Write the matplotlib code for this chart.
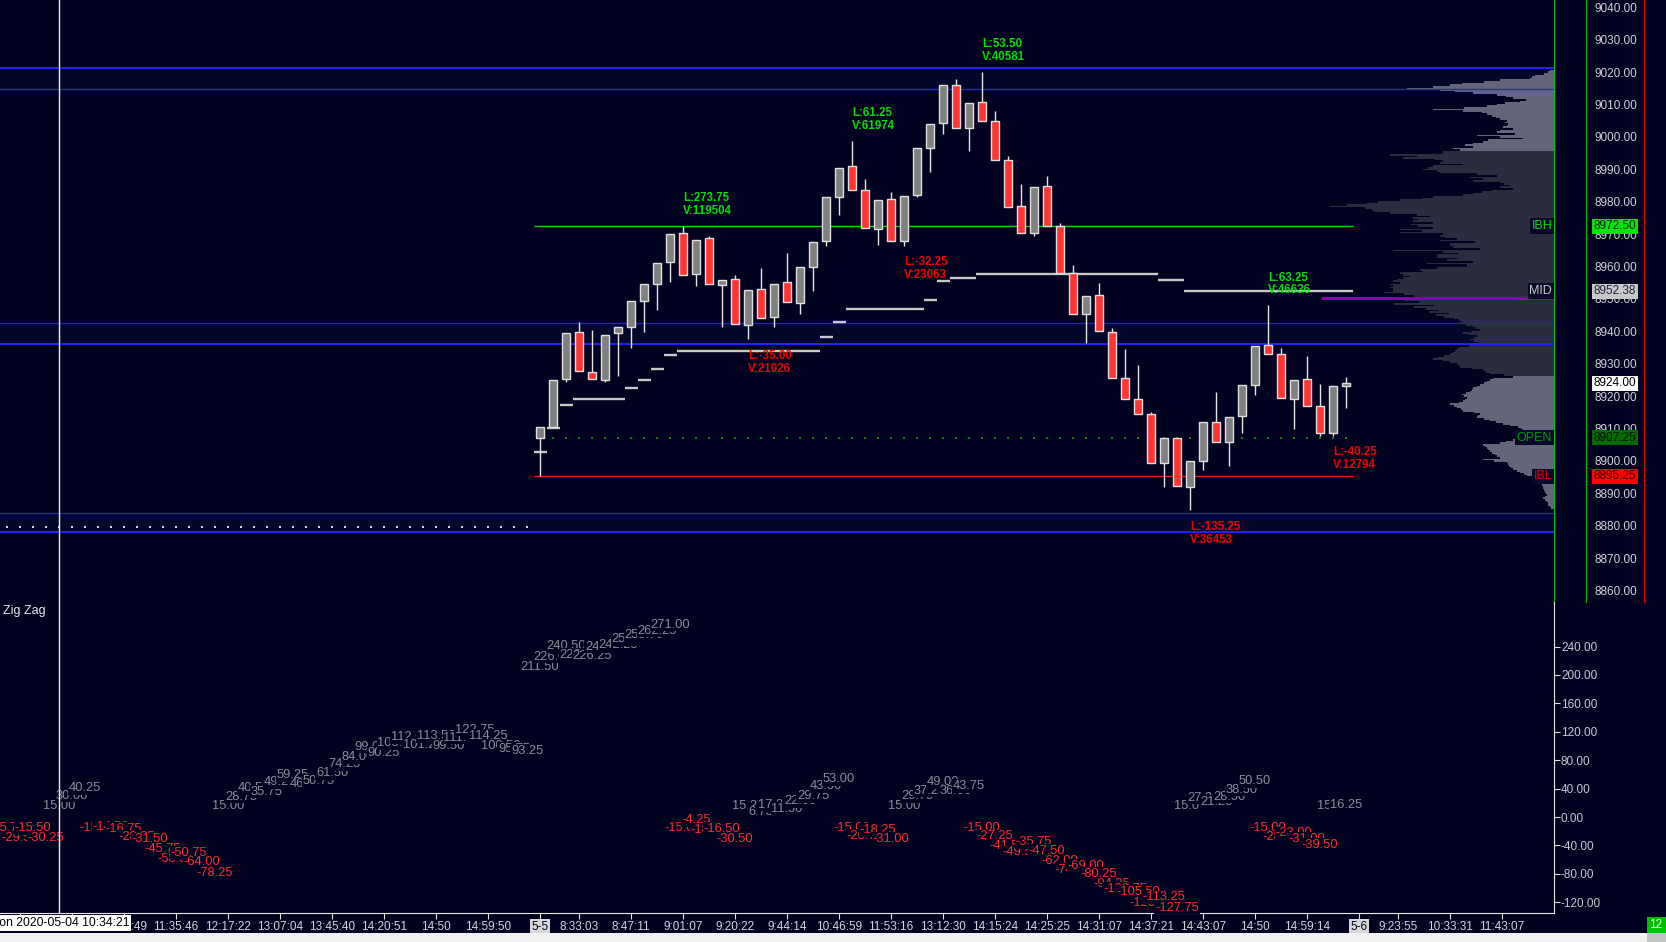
import numpy as np
import matplotlib
matplotlib.use('Agg')
import matplotlib.pyplot as plt
from matplotlib.lines import Line2D
from matplotlib.patches import Rectangle

plt.rcParams['font.family'] = ['Liberation Sans', 'DejaVu Sans']

BG = '#010120'
W, H = 1666, 942

# 15 point range bars of the 5-5 session (bar index 0..62)
opens = [8907.25, 8910.5, 8925.25, 8939.75, 8927.5, 8925.0, 8939.5, 8941.5, 8949.5, 8954.75,
         8961.5, 8970.25, 8957.75, 8968.75, 8954.25, 8956.25, 8942.0, 8953.0, 8944.5, 8955.25,
         8948.75, 8960.0, 8967.75, 8981.5, 8991.0, 8983.75, 8971.75, 8980.75, 8967.75, 8982.0,
         8996.75, 9004.25, 9016.0, 9002.75, 9010.75, 9005.0, 8992.75, 8978.75, 8970.25, 8984.75,
         8972.5, 8958.0, 8945.25, 8951.25, 8939.75, 8925.5, 8919.0, 8914.5, 8899.25, 8907.0,
         8892.0, 8900.0, 8912.0, 8905.75, 8913.75, 8923.5, 8935.75, 8933.0, 8919.25, 8925.25,
         8917.0, 8908.5, 8923.0]
highs = [8910.5, 8925.0, 8939.5, 8943.0, 8940.5, 8939.0, 8941.25, 8949.5, 8954.75, 8961.25,
         8970.0, 8972.5, 8968.25, 8969.5, 8956.0, 8957.5, 8952.75, 8959.5, 8954.75, 8964.25,
         8960.0, 8967.5, 8981.5, 8990.5, 8998.75, 8987.0, 8980.5, 8983.0, 8981.75, 8996.5,
         9004.0, 9016.0, 9018.0, 9010.5, 9020.0, 9008.0, 8994.0, 8985.5, 8984.5, 8988.0,
         8973.5, 8960.5, 8951.0, 8955.0, 8941.0, 8934.5, 8929.5, 8915.0, 8907.0, 8907.0,
         8900.0, 8912.0, 8921.25, 8913.5, 8923.5, 8935.5, 8948.0, 8935.0, 8925.0, 8932.5,
         8923.75, 8923.0, 8926.0]
lows = [8895.25, 8910.5, 8924.5, 8927.75, 8925.25, 8924.5, 8926.25, 8934.75, 8939.75, 8946.75,
        8955.25, 8957.5, 8954.0, 8954.5, 8941.5, 8942.25, 8937.5, 8944.25, 8941.5, 8949.0,
        8945.25, 8952.5, 8966.5, 8976.0, 8983.75, 8972.0, 8966.75, 8968.0, 8966.5, 8981.5,
        8989.25, 9001.0, 9002.75, 8995.75, 9005.0, 8993.0, 8978.5, 8970.5, 8969.5, 8972.5,
        8958.0, 8945.5, 8936.5, 8940.0, 8925.75, 8919.25, 8914.5, 8899.5, 8892.0, 8892.25,
        8884.75, 8897.25, 8906.0, 8898.5, 8908.75, 8920.5, 8933.0, 8919.5, 8910.0, 8917.0,
        8907.75, 8907.75, 8916.5]
closes = [8910.5, 8925.0, 8939.5, 8927.75, 8925.25, 8939.0, 8941.25, 8949.5, 8954.75, 8961.25,
          8970.0, 8957.5, 8968.25, 8954.5, 8956.0, 8942.25, 8952.75, 8944.25, 8954.75, 8949.0,
          8960.0, 8967.5, 8981.5, 8990.5, 8983.75, 8972.0, 8980.5, 8968.0, 8981.75, 8996.5,
          9004.0, 9016.0, 9002.75, 9010.5, 9005.0, 8993.0, 8978.5, 8970.5, 8984.5, 8972.5,
          8958.0, 8945.5, 8951.0, 8940.0, 8925.75, 8919.25, 8914.5, 8899.5, 8907.0, 8892.25,
          8900.0, 8912.0, 8906.0, 8913.5, 8923.5, 8935.5, 8933.0, 8919.5, 8925.0, 8917.0,
          8908.5, 8923.0, 8924.0]

# swing labels: bar, price, leg length, leg volume
swing_bar = [11, 16, 24, 28, 34, 50, 56, 61]
swing_price = [8972.5, 8937.5, 8998.75, 8966.5, 9020.0, 8884.75, 8948.0, 8907.75]
swing_len = ['273.75', '-35.00', '61.25', '-32.25', '53.50', '-135.25', '63.25', '-40.25']
swing_vol = ['119504', '21026', '61974', '23063', '40581', '36453', '46636', '12794']

ibh, ibl, open_px = 8972.5, 8895.25, 8907.25
prev_level = 8879.5
zone_top = [9021.3, 8942.6, 8884.0]
zone_bot = [9014.8, 8936.1, 8878.1]
poc_px = 8950.3
last_px = 8924.0

# volume profile, lengths (px) per 0.5 pt level from 9020.5 down to 8885.5
prof_len = [4, 6, 10, 19, 22, 24, 54, 70, 92, 104,
            121, 147, 114, 99, 81, 57, 48, 41, 28, 34,
            49, 57, 67, 90, 121, 91, 72, 67, 62, 58,
            54, 47, 49, 46, 47, 51, 41, 54, 57, 39,
            77, 54, 31, 66, 71, 81, 89, 81, 101, 94,
            111, 111, 164, 137, 151, 119, 111, 114, 91, 121,
            126, 131, 117, 114, 77, 57, 84, 71, 81, 54,
            50, 44, 54, 41, 62, 72, 81, 91, 121, 131,
            154, 176, 187, 207, 224, 189, 182, 179, 164, 137,
            124, 141, 136, 141, 121, 144, 136, 121, 154, 132,
            154, 111, 114, 109, 97, 114, 79, 104, 104, 101,
            74, 161, 111, 96, 117, 117, 97, 107, 81, 127,
            87, 87, 117, 134, 131, 154, 151, 144, 151, 157,
            161, 154, 164, 161, 164, 161, 161, 170, 150, 140,
            165, 170, 150, 135, 160, 120, 140, 128, 115, 125,
            105, 118, 110, 100, 95, 92, 94, 88, 81, 78,
            74, 82, 91, 85, 77, 80, 84, 80, 75, 71,
            85, 94, 97, 99, 101, 104, 110, 116, 121, 111,
            104, 97, 95, 94, 82, 71, 68, 64, 50, 41,
            61, 64, 67, 70, 74, 77, 81, 82, 84, 88,
            92, 90, 87, 89, 91, 95, 104, 100, 97, 93,
            91, 80, 74, 76, 77, 70, 64, 58, 51, 44,
            36, 33, 31, 32, 34, 34, 34, 37, 41, 48,
            54, 71, 69, 67, 66, 64, 62, 59, 57, 54,
            71, 60, 47, 46, 45, 43, 41, 37, 34, 30,
            27, 22, 17, 14, 11, 12, 12, 11, 11, 10,
            9, 8, 7, 9, 11, 9, 7, 6, 6, 4,
            3]
prof_levels = np.arange(9020.5, 8885.25, -0.5)

# zig zag values per bar: previous day bars -41..-1, then today 0..62
zz_prev = [-15.75, -29.50, -15.50, -30.25, 15.00, 30.00, 40.25, -15.25, -14.50, -16.75,
           -28.25, -31.50, -45.75, -58.50, -50.75, -64.00, -78.25, 15.00, 28.75, 40.50,
           35.75, 49.25, 59.25, 46.00, 50.75, 61.50, 74.25, 84.00, 99.00, 90.25,
           103.75, 112.00, 101.25, 113.50, 99.50, 111.75, 122.75, 114.25, 100.50, 95.75,
           93.25]
zz_today = [211.50, 226.00, 240.50, 228.75, 226.25, 240.00, 242.25, 250.50, 255.75, 262.25,
            271.00, -15.00, -4.25, -18.00, -16.50, -30.50, 15.25, 6.75, 17.25, 11.50,
            22.50, 29.75, 43.50, 53.00, -15.00, -26.75, -18.25, -31.00, 15.00, 29.75,
            37.25, 49.00, 36.00, 43.75, -15.00, -27.25, -41.50, -49.50, -35.75, -47.50,
            -62.00, -74.50, -69.00, -80.25, -94.25, -100.75, -105.50, -120.50, -113.25, -127.75,
            15.00, 27.25, 21.25, 28.50, 38.50, 50.50, -15.00, -28.50, -23.00, -31.00,
            -39.50, 15.00, 16.25]

tick_bars = [-40, -36, -32, -28, -24, -20, -16, -12, -8, -4, 0, 3, 7, 11, 15, 19, 23, 27,
             31, 35, 39, 43, 47, 51, 55, 59, 63, 66, 70, 74]
tick_text = ['', '', '10:58:49', '11:35:46', '12:17:22', '13:07:04', '13:45:40', '14:20:51',
             '14:50', '14:59:50', '5-5', '8:33:03', '8:47:11', '9:01:07', '9:20:22', '9:44:14',
             '10:46:59', '11:53:16', '13:12:30', '14:15:24', '14:25:25', '14:31:07', '14:37:21',
             '14:43:07', '14:50', '14:59:14', '5-6', '9:23:55', '10:33:31', '11:43:07']
cursor_bar = -37
cursor_text = 'Mon 2020-05-04 10:34:21'

bars = np.arange(len(opens))
prev_bars = np.arange(-len(zz_prev), 0)
o, h, l, c = map(np.array, (opens, highs, lows, closes))
XMIN, XMAX = -41.54, 78.0

fig = plt.figure(figsize=(W / 100, H / 100), dpi=100, facecolor=BG)
ax = fig.add_axes([0, 340 / H, 1554 / W, 602 / H], facecolor=BG)
ax2 = fig.add_axes([0, 29 / H, 1554 / W, 311 / H], facecolor=BG)

# ---------------- price panel ----------------
ax.set_xlim(XMIN, XMAX)
ax.set_ylim(8856.48, 9042.28)

for t, b in zip(zone_top, zone_bot):
    ax.axhspan(b, t, color='#03072C', lw=0, zorder=0.5)
ax.axhline(zone_top[0], color='#2323FF', lw=1.4, zorder=1.5)
ax.axhline(zone_bot[0], color='#2828C8', lw=1.0, zorder=1.5)
for i in (1, 2):
    ax.axhline(zone_top[i], color='#2424B8', lw=1.0, zorder=1.5)
    ax.axhline(zone_bot[i], color='#2323FF', lw=1.4, zorder=1.5)

# volume profile from the right edge
plen = np.array(prof_len) / 13.0
pcol = ['#64647A' if (p >= 8996 or p <= 8926) else '#2C2C40' for p in prof_levels]
ax.barh(prof_levels, plen, left=XMAX - plen, height=0.5, color=pcol, lw=0, zorder=1)
ax.hlines(poc_px, 60.1, XMAX, color='#8A00AA', lw=2.2, zorder=1.6)

# previous day dots, opening line, IB lines
ax.plot(prev_bars, [prev_level] * len(prev_bars), ls='none', marker='s', ms=1.6,
        color='#D8D8D8', mew=0, zorder=2)
ax.plot(bars, [open_px] * len(bars), ls='none', marker='s', ms=2.0, color='#009000',
        mew=0, zorder=2)
ax.hlines(ibh, -0.5, bars[-1] + 0.5, color='#00DD00', lw=1.0, zorder=2)
ax.hlines(ibl, -0.5, bars[-1] + 0.5, color='#FF1414', lw=1.0, zorder=2)

# running midpoint of the session range
mid = (np.maximum.accumulate(h) + np.minimum.accumulate(l)) / 2
ax.hlines(mid, bars - 0.5, bars + 0.5, color='#C8C8C8', lw=1.7, zorder=2.2)

# candles
up = c >= o
ax.vlines(bars, l, h, color='#E6E6E6', lw=1.0, zorder=3)
ax.bar(bars, np.abs(c - o), bottom=np.minimum(o, c), width=0.62,
       color=np.where(up, '#808080', '#FF3434'), edgecolor='#E0E0E0', lw=1.0, zorder=4)

# swing labels
for b, p, ln, vo in zip(swing_bar, swing_price, swing_len, swing_vol):
    neg = ln.startswith('-')
    ax.annotate(f'L:{ln}\nV:{vo}', (b, p), xytext=(0, -7.5 if neg else 6.5),
                textcoords='offset points', ha='left', va='top' if neg else 'bottom',
                color='#F00000' if neg else '#00E000', fontsize=8.3, fontweight='bold',
                linespacing=1.1, zorder=6)

# level tags inside the plot
ytr = ax.get_yaxis_transform()
for txt, p, col in [('IBH', ibh, '#00E000'), ('MID', mid[-1], '#C8C8C8'),
                    ('OPEN', open_px, '#009A00'), ('IBL', ibl, '#E00000')]:
    ax.text(0.9988, p, txt, transform=ytr, ha='right', va='center', fontsize=9, color=col,
            bbox=dict(boxstyle='square,pad=0.15', fc='#08082A', ec='none'), zorder=7)

# price scale
ax.yaxis.tick_right()
ax.set_yticks(np.arange(8860, 9041, 10))
ax.set_yticklabels([f'{v:.2f}' for v in np.arange(8860, 9041, 10)])
ax.tick_params(axis='y', length=0, pad=29.5, labelsize=8.5, labelcolor='#D2D2DA')
ax.set_xticks([])
for s in ('left', 'top', 'bottom'):
    ax.spines[s].set_visible(False)
ax.spines['right'].set_color('#00C800')

for txt, p, fc, tc in [(f'{ibh:.2f}', ibh, '#00E600', '#0A200A'),
                       (f'{mid[-1]:.2f}', mid[-1], '#C8C8C8', '#202040'),
                       (f'{last_px:.2f}', last_px, '#FFFFFF', '#000000'),
                       (f'{open_px:.2f}', open_px, '#006A00', '#001400'),
                       (f'{ibl:.2f}', ibl, '#FF0000', '#3A0000')]:
    ax.text(1.0393, p, txt, transform=ytr, ha='center', va='center', fontsize=8.5, color=tc,
            bbox=dict(boxstyle='square,pad=0.12', fc=fc, ec='none'), clip_on=False, zorder=8)

fig.add_artist(Line2D([1586 / W] * 2, [340 / H, 1], transform=fig.transFigure,
                      color='#00B000', lw=1))
fig.add_artist(Line2D([1644 / W] * 2, [340 / H, 1], transform=fig.transFigure,
                      color='#E00000', lw=1))

# ---------------- zig zag panel ----------------
ax2.set_xlim(XMIN, XMAX)
ax2.set_ylim(-135.2, 302.8)
zz_bars = np.concatenate([prev_bars, bars])
zz_vals = zz_prev + zz_today
for k, (b, v) in enumerate(zip(zz_bars, zz_vals)):
    ax2.text(b, v, f'{v:.2f}', ha='center', va='center', fontsize=9.3,
             color='#FF2C2C' if v < 0 else '#8C8C98', zorder=3 + k * 0.001,
             bbox=dict(boxstyle='square,pad=0.05', fc=BG, ec='none'))

ax2.yaxis.tick_right()
ax2.set_yticks(np.arange(-120, 241, 40))
ax2.set_yticklabels([f'{v:.2f}' for v in np.arange(-120, 241, 40)])
ax2.tick_params(axis='y', direction='out', length=4, color='#E0E0E0', pad=1,
                labelsize=8.5, labelcolor='#C8C8D0')
ax2.set_xticks(tick_bars)
xl = ax2.set_xticklabels(tick_text)
ax2.tick_params(axis='x', direction='out', length=4, color='#E0E0E0', pad=1.5,
                labelsize=8.5, labelcolor='#D4D4DC')
for t in xl:
    if t.get_text() in ('5-5', '5-6'):
        t.set_bbox(dict(boxstyle='square,pad=0.1', fc='#D8D8D8', ec='none'))
        t.set_color('#000020')
for s in ('left', 'top'):
    ax2.spines[s].set_visible(False)
for s in ('right', 'bottom'):
    ax2.spines[s].set_color('#E8E8E8')

# cursor
ax.axvline(cursor_bar, color='#F0F0F0', lw=1, zorder=5)
ax2.axvline(cursor_bar, color='#F0F0F0', lw=1, zorder=5)
fig.text((540 + 13 * cursor_bar) / W, 1 - 923 / H, cursor_text, ha='center', va='center',
         fontsize=8.8, color='#000000',
         bbox=dict(boxstyle='square,pad=0.15', fc='#FFFFFF', ec='none'), zorder=10)

fig.text(3 / W, 1 - 611 / H, 'Zig Zag', ha='left', va='center', fontsize=9, color='#E8E8E8')

# bottom strip
fig.add_artist(Rectangle((0, 0), 1, 9 / H, transform=fig.transFigure, fc='#F0F0F0', ec='none'))
fig.add_artist(Rectangle((1647 / W, 0), 19 / W, 9 / H, transform=fig.transFigure,
                         fc='#C4C4C4', ec='none'))
fig.add_artist(Rectangle((1647 / W, 9 / H), 19 / W, 16 / H, transform=fig.transFigure,
                         fc='#00C000', ec='none'))
fig.text(1656 / W, 17 / H, '12', ha='center', va='center', fontsize=8.5, color='#E8FFE8')

fig.savefig('out.png', dpi=100, facecolor=BG)
